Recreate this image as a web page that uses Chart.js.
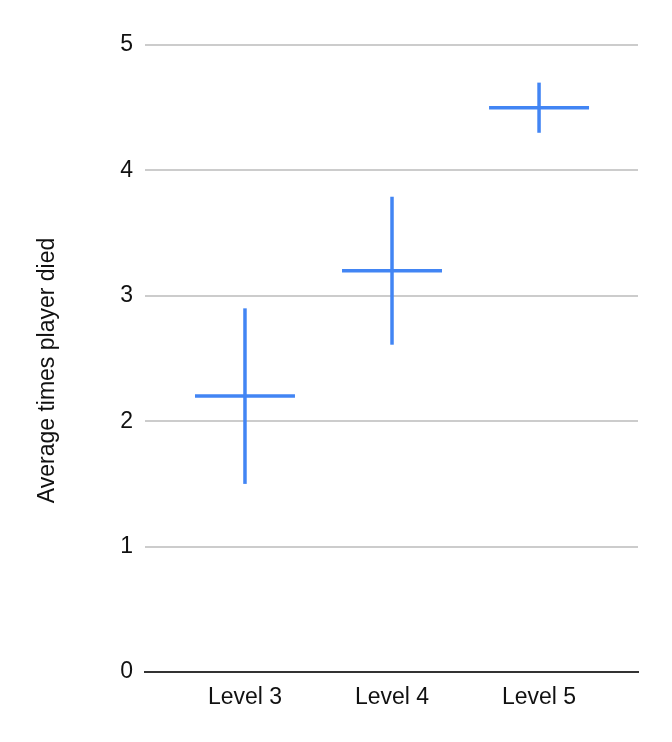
<!DOCTYPE html>
<html>
<head>
<meta charset="utf-8">
<script src="https://cdn.jsdelivr.net/npm/chart.js@4/dist/chart.umd.min.js"></script>
<style>
  html, body { margin: 0; padding: 0; background: #ffffff; }
  #wrap { width: 672px; height: 742px; position: relative; }
</style>
</head>
<body>
<div id="wrap"><canvas id="c" width="672" height="742"></canvas></div>
<script>
// ---- data ----
const categories = ['Level 3', 'Level 4', 'Level 5'];
const means = [2.2, 3.2, 4.5];
const highs = [2.9, 3.79, 4.7];
const lows = [1.5, 2.61, 4.3];
const yTicks = [0, 1, 2, 3, 4, 5];
const yTitle = 'Average times player died';

// ---- style ----
const BLUE = '#4285F4';
const FONT = "'Liberation Sans', Arial, sans-serif";
const FS = 23;
const HALF = 0.34; // half width of the horizontal mark, in category units

const datasets = [];
categories.forEach((c, i) => {
  datasets.push({
    data: [{x: i, y: lows[i]}, {x: i, y: highs[i]}],
    showLine: true, borderColor: BLUE, borderWidth: 3.5, pointRadius: 0, pointHoverRadius: 0
  });
  datasets.push({
    data: [{x: i - HALF, y: means[i]}, {x: i + HALF, y: means[i]}],
    showLine: true, borderColor: BLUE, borderWidth: 3.5, pointRadius: 0, pointHoverRadius: 0
  });
});

const titlePlugin = {
  id: 'yTitle',
  afterDraw(chart) {
    const ca = chart.chartArea;
    const ctx = chart.ctx;
    ctx.save();
    ctx.translate(ca.left - 97, (ca.top + ca.bottom) / 2 + 12);
    ctx.rotate(-Math.PI / 2);
    ctx.font = FS + 'px ' + FONT;
    ctx.fillStyle = '#111';
    ctx.textAlign = 'center';
    ctx.textBaseline = 'middle';
    ctx.fillText(yTitle, 0, 0);
    ctx.restore();
  }
};

new Chart(document.getElementById('c'), {
  type: 'scatter',
  data: { datasets },
  plugins: [titlePlugin],
  options: {
    responsive: false,
    animation: false,
    layout: { padding: { left: 0, right: 34, top: 45, bottom: 0 } },
    plugins: { legend: { display: false }, tooltip: { enabled: false } },
    scales: {
      x: {
        type: 'linear',
        min: -0.68, max: 2.673,
        afterBuildTicks: s => { s.ticks = categories.map((c, i) => ({ value: i })); },
        afterFit: s => { s.height = 70; },
        ticks: {
          callback: v => categories[v] !== undefined ? categories[v] : '',
          font: { family: FONT, size: FS }, color: '#111', padding: 12, maxRotation: 0
        },
        grid: { display: false, drawTicks: false },
        border: { display: true, color: '#333', width: 2 }
      },
      y: {
        min: 0, max: 5,
        afterBuildTicks: s => { s.ticks = yTicks.map(v => ({ value: v })); },
        afterFit: s => { s.width = 145; },
        ticks: { font: { family: FONT, size: FS }, color: '#111', padding: 12 },
        grid: { color: '#cccccc', lineWidth: 2, drawTicks: false },
        border: { display: false }
      }
    }
  }
});
</script>
</body>
</html>
